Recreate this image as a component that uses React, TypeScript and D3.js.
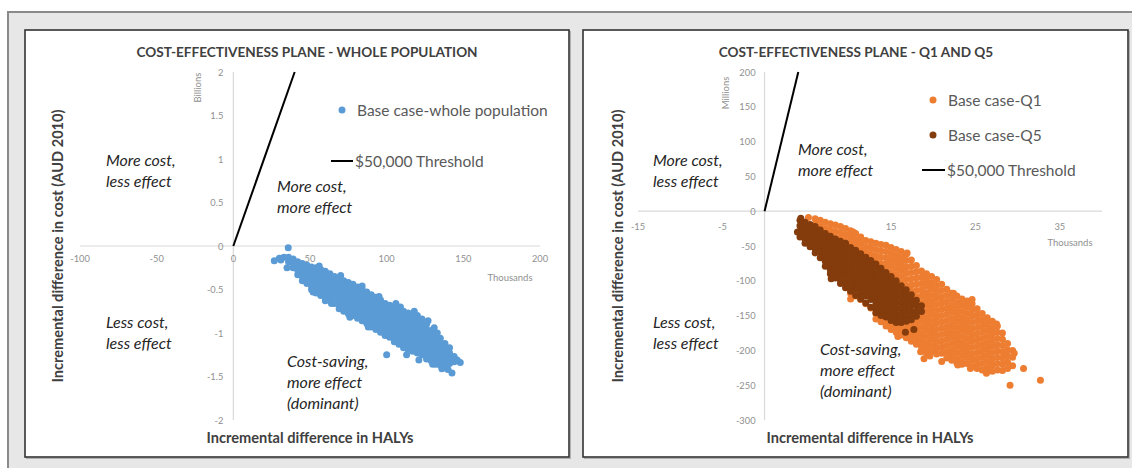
import React from 'react';
import * as d3 from 'd3';

// ---------- DATA ----------
const leftXTicks = [-100, -50, 0, 50, 100, 150, 200];
const leftYTicks = [2, 1.5, 1, 0.5, 0, -0.5, -1, -1.5, -2];
const rightXTicks = [-15, -5, 5, 15, 25, 35];
const rightYTicks = [200, 150, 100, 50, 0, -50, -100, -150, -200, -250, -300];

// Threshold ($50,000 per HALY): [x thousands, y cost]
const leftThreshold: [number, number][] = [[0, 0], [40, 2]];
const rightThreshold: [number, number][] = [[0, 0], [4, 200]];

// Whole population (x: thousand HALYs, y: billion AUD), read column by column
const wholeCols: [number, number[]][] = [
  [36, [-0.13, -0.18]],
  [39, [-0.15, -0.20, -0.25]],
  [42, [-0.18, -0.23, -0.28, -0.33]],
  [45, [-0.20, -0.25, -0.30, -0.35, -0.40]],
  [48, [-0.22, -0.27, -0.33, -0.38, -0.43]],
  [51, [-0.24, -0.29, -0.35, -0.40, -0.46, -0.50]],
  [54, [-0.25, -0.31, -0.37, -0.42, -0.48, -0.54]],
  [57, [-0.27, -0.33, -0.39, -0.45, -0.51, -0.57]],
  [60, [-0.29, -0.35, -0.41, -0.47, -0.53, -0.59]],
  [63, [-0.32, -0.38, -0.44, -0.50, -0.56, -0.62]],
  [66, [-0.35, -0.41, -0.47, -0.53, -0.59, -0.66]],
  [69, [-0.37, -0.43, -0.49, -0.55, -0.61, -0.67, -0.72]],
  [72, [-0.40, -0.46, -0.52, -0.58, -0.64, -0.70, -0.75]],
  [75, [-0.42, -0.48, -0.54, -0.60, -0.66, -0.72, -0.78]],
  [78, [-0.44, -0.50, -0.56, -0.62, -0.68, -0.74, -0.80]],
  [81, [-0.47, -0.53, -0.59, -0.65, -0.71, -0.77, -0.83]],
  [84, [-0.50, -0.56, -0.62, -0.68, -0.74, -0.80, -0.86]],
  [87, [-0.53, -0.59, -0.65, -0.71, -0.77, -0.83, -0.89]],
  [90, [-0.56, -0.62, -0.68, -0.74, -0.80, -0.86, -0.93]],
  [93, [-0.59, -0.65, -0.71, -0.77, -0.83, -0.89, -0.96]],
  [96, [-0.62, -0.68, -0.74, -0.80, -0.86, -0.92, -0.99]],
  [99, [-0.66, -0.72, -0.78, -0.84, -0.90, -0.96, -1.03]],
  [102, [-0.68, -0.74, -0.80, -0.86, -0.92, -0.98, -1.05]],
  [105, [-0.70, -0.76, -0.82, -0.88, -0.94, -1.00, -1.06, -1.10]],
  [108, [-0.72, -0.78, -0.84, -0.90, -0.96, -1.02, -1.08, -1.13]],
  [111, [-0.75, -0.81, -0.87, -0.93, -0.99, -1.05, -1.11, -1.17]],
  [114, [-0.77, -0.83, -0.89, -0.95, -1.01, -1.07, -1.13, -1.19]],
  [117, [-0.78, -0.84, -0.90, -0.96, -1.02, -1.08, -1.14, -1.21]],
  [120, [-0.80, -0.86, -0.92, -0.98, -1.04, -1.10, -1.16, -1.23]],
  [123, [-0.84, -0.90, -0.96, -1.02, -1.08, -1.14, -1.20, -1.25]],
  [126, [-0.90, -0.96, -1.02, -1.08, -1.14, -1.20, -1.27, -1.30]],
  [129, [-0.97, -1.03, -1.09, -1.15, -1.21, -1.27, -1.32]],
  [132, [-1.02, -1.08, -1.14, -1.20, -1.26, -1.32, -1.36]],
  [135, [-1.06, -1.12, -1.18, -1.24, -1.30, -1.37]],
  [138, [-1.12, -1.18, -1.24, -1.30, -1.36, -1.40]],
  [141, [-1.17, -1.23, -1.29, -1.35]],
  [144, [-1.27, -1.33]],
];
const wholeExtra: [number, number][] = [
  [35.8, -0.02], [26.7, -0.17], [35, -0.25], [31, -0.16], [33, -0.13], [30, -0.14],
  [100, -1.25], [142.6, -1.46], [148, -1.34], [146, -1.31], [140, -1.42], [136, -1.41],
  [121, -1.31], [113, -1.25], [127, -0.86], [131, -0.94], [118, -0.75], [106, -0.66],
  [95, -0.58], [84, -0.46], [70, -0.34], [56, -0.23], [52, -0.53], [64, -0.66],
  [88, -0.93], [130, -1.36], [109, -0.70], [76, -0.82], [60, -0.63], [133, -1.00],
];

// Q5 (x: thousand HALYs, y: million AUD)
const q5Cols: [number, number[]][] = [
  [4.2, [-13, -21, -29, -37]],
  [4.8, [-16, -24, -32, -40, -46]],
  [5.4, [-19, -27, -35, -43, -51]],
  [6.0, [-22, -30, -38, -46, -54, -60]],
  [6.6, [-27, -35, -43, -51, -59, -67]],
  [7.2, [-32, -40, -48, -56, -64, -72, -79]],
  [7.8, [-36, -44, -52, -60, -68, -76, -84, -90]],
  [8.4, [-40, -48, -56, -64, -72, -80, -88, -96]],
  [9.0, [-43, -51, -59, -67, -75, -83, -91, -99, -104]],
  [9.6, [-46, -54, -62, -70, -78, -86, -94, -102, -110]],
  [10.2, [-52, -60, -68, -76, -84, -92, -100, -108, -115]],
  [10.8, [-56, -64, -72, -80, -88, -96, -104, -112, -121]],
  [11.4, [-61, -69, -77, -85, -93, -101, -109, -117, -126]],
  [12.0, [-66, -74, -82, -90, -98, -106, -114, -122, -132]],
  [12.6, [-71, -79, -87, -95, -103, -111, -119, -127, -138]],
  [13.2, [-76, -84, -92, -100, -108, -116, -124, -132, -140, -146]],
  [13.8, [-82, -90, -98, -106, -114, -122, -130, -138, -146, -150]],
  [14.4, [-88, -96, -104, -112, -120, -128, -136, -144, -152]],
  [15.0, [-94, -102, -110, -118, -126, -134, -142, -150, -157]],
  [15.6, [-100, -108, -116, -124, -132, -140, -148, -156, -160]],
  [16.2, [-107, -115, -123, -131, -139, -147, -155, -160]],
  [16.8, [-113, -121, -129, -137, -145, -153, -158]],
  [17.4, [-120, -128, -136, -144, -152, -156]],
  [18.0, [-128, -136, -144, -151]],
  [18.6, [-136, -144]],
];
const q5Extra: [number, number][] = [
  [16.7, -174], [17.7, -170], [7.9, -97], [4.3, -10], [3.9, -30],
];

// Q1 (x: thousand HALYs, y: million AUD)
const q1Cols: [number, number[]][] = [
  [6.0, [-11, -19]],
  [6.6, [-13, -22]],
  [7.2, [-16, -25, -32]],
  [7.8, [-18, -27, -35]],
  [8.4, [-20, -29, -38]],
  [9.0, [-22, -31, -40]],
  [9.6, [-25, -34, -43]],
  [10.2, [-28, -37, -46, -118, -126]],
  [10.8, [-32, -41, -50, -122]],
  [11.4, [-37, -46, -55, -127]],
  [12.0, [-42, -51, -60, -68, -133]],
  [12.6, [-44, -53, -62, -71, -139]],
  [13.2, [-46, -55, -64, -73, -147, -155]],
  [13.8, [-48, -57, -66, -75, -84, -150, -159]],
  [14.4, [-49, -58, -67, -76, -85, -152, -161, -165]],
  [15.0, [-52, -61, -70, -79, -88, -96, -157, -166, -170]],
  [15.6, [-55, -64, -73, -82, -91, -100, -160, -168, -174]],
  [16.2, [-58, -67, -76, -85, -94, -103, -110, -162, -170, -178]],
  [16.8, [-62, -71, -80, -89, -98, -107, -116, -160, -168, -176, -182]],
  [17.4, [-70, -79, -88, -97, -106, -115, -124, -158, -166, -174, -182, -187]],
  [18.0, [-78, -87, -96, -105, -114, -123, -132, -155, -163, -171, -179, -187, -191]],
  [18.6, [-86, -95, -104, -113, -122, -131, -140, -149, -158, -167, -176, -185, -194, -200]],
  [19.2, [-90, -99, -108, -117, -126, -135, -144, -153, -162, -171, -180, -189, -198, -204]],
  [19.8, [-94, -103, -112, -121, -130, -139, -148, -157, -166, -175, -184, -193, -202]],
  [20.4, [-98, -107, -116, -125, -134, -143, -152, -161, -170, -179, -188, -197, -205]],
  [21.0, [-105, -114, -123, -132, -141, -150, -159, -168, -177, -186, -195, -204]],
  [21.6, [-112, -121, -130, -139, -148, -157, -166, -175, -184, -193, -202, -211]],
  [22.2, [-118, -127, -136, -145, -154, -163, -172, -181, -190, -199, -208, -214]],
  [22.8, [-122, -131, -140, -149, -158, -167, -176, -185, -194, -203, -212, -218]],
  [23.4, [-126, -135, -144, -153, -162, -171, -180, -189, -198, -207, -216, -220]],
  [24.0, [-129, -138, -147, -156, -165, -174, -183, -192, -201, -210, -219]],
  [24.6, [-133, -142, -151, -160, -169, -178, -187, -196, -205, -214, -223]],
  [25.2, [-140, -149, -158, -167, -176, -185, -194, -203, -212, -221, -226]],
  [25.8, [-147, -156, -165, -174, -183, -192, -201, -210, -219, -228]],
  [26.4, [-153, -162, -171, -180, -189, -198, -207, -216, -225, -230]],
  [27.0, [-158, -167, -176, -185, -194, -203, -212, -221, -230]],
  [27.6, [-165, -174, -183, -192, -201, -210, -219, -228]],
  [28.2, [-175, -184, -193, -202, -211, -220, -229]],
  [28.8, [-190, -199, -208, -217, -226]],
  [29.4, [-200, -210, -222]],
];
const q1Extra: [number, number][] = [
  [29.1, -250], [32.7, -243], [30.7, -226], [18.5, -202], [18.9, -212],
  [24.4, -226], [21.0, -216], [16.4, -63], [27.5, -162], [5.2, -9], [10.5, -30],
  [16.9, -60], [22.4, -118], [24.6, -127], [26.9, -172], [29.6, -204], [26.3, -233],
  [22.9, -221], [19.6, -208], [15.8, -180],
];

// ---------- HELPERS ----------
const flatten = (cols: [number, number[]][], extra: [number, number][]) => [
  ...cols.flatMap(([x, ys]) => ys.map((y) => [x, y] as [number, number])),
  ...extra,
];
const wholePts = flatten(wholeCols, wholeExtra);
const q5Pts = flatten(q5Cols, q5Extra);
const q1Pts = flatten(q1Cols, q1Extra);

const FONT = "Lato, 'Open Sans', sans-serif";
const BLUE = '#5b9bd5';
const ORANGE = '#ed7d31';
const BROWN = '#843c0c';
const R = 3.5;

const QLabel = ({ x, y, lines }: { x: number; y: number; lines: string[] }) => (
  <text x={x} y={y} fontFamily={FONT} fontStyle="italic" fontSize={16} fill="#262626">
    {lines.map((l, i) => (
      <tspan key={i} x={x} dy={i === 0 ? 0 : 21}>{l}</tspan>
    ))}
  </text>
);

export default function App() {
  // Left plot scales
  const lx = d3.scaleLinear().domain([-100, 200]).range([80, 540]);
  const ly = d3.scaleLinear().domain([-2, 2]).range([420, 72]);
  // Right plot scales
  const rx = d3.scaleLinear().domain([-15, 40]).range([638, 1102]);
  const ry = d3.scaleLinear().domain([-300, 200]).range([420, 72]);

  const line = (sx: any, sy: any) => d3.line<[number, number]>().x((d) => sx(d[0])).y((d) => sy(d[1]));

  const tickStyle = { fontFamily: FONT, fontSize: 9.3, fill: '#909090' } as const;
  const unitStyle = { fontFamily: FONT, fontSize: 9.5, fill: '#909090' } as const;
  const axisTitle = { fontFamily: FONT, fontSize: 14.6, fontWeight: 700, fill: '#404040' } as const;
  const legendStyle = { fontFamily: FONT, fontSize: 15.5, fill: '#595959' } as const;
  const titleStyle = { fontFamily: FONT, fontSize: 13.6, fontWeight: 700, fill: '#404040' } as const;

  return (
    <svg width={1132} height={468} style={{ position: 'absolute', left: 0, top: 0 }}>
      <rect x={0} y={0} width={1132} height={468} fill="#ffffff" />
      <rect x={8} y={12} width={1140} height={480} fill="#e7e7e7" stroke="#8a8a8a" strokeWidth={2} />
      {/* panels */}
      <rect x={26.5} y={31.5} width={544} height={427} fill="none" stroke="#b0b0b0" strokeWidth={1} />
      <rect x={25} y={30} width={544} height={427} fill="#ffffff" stroke="#333" strokeWidth={1.6} />
      <rect x={584.5} y={31.5} width={545} height={427} fill="none" stroke="#b0b0b0" strokeWidth={1} />
      <rect x={583} y={30} width={545} height={427} fill="#ffffff" stroke="#333" strokeWidth={1.6} />

      {/* ---------------- LEFT CHART ---------------- */}
      <text x={307} y={57} textAnchor="middle" {...titleStyle}>
        COST-EFFECTIVENESS PLANE - WHOLE POPULATION
      </text>
      <line x1={lx(-100)} x2={lx(200)} y1={ly(0)} y2={ly(0)} stroke="#d9d9d9" strokeWidth={1.2} />
      <line x1={lx(0)} x2={lx(0)} y1={ly(2)} y2={ly(-2)} stroke="#d9d9d9" strokeWidth={1.2} />
      {leftYTicks.map((t) => (
        <text key={t} x={lx(0) - 10} y={ly(t) + 3.5} textAnchor="end" {...tickStyle}>{String(t)}</text>
      ))}
      {leftXTicks.map((t) => (
        <text key={t} x={lx(t)} y={ly(0) + 16} textAnchor="middle" {...tickStyle}>{String(t)}</text>
      ))}
      <text x={510} y={ly(0) + 35} textAnchor="middle" {...unitStyle}>Thousands</text>
      <text transform={`translate(${lx(0) - 32},${ly(1.82)}) rotate(-90)`} textAnchor="middle" {...unitStyle}>Billions</text>
      <text transform={`translate(63,${(ly(2) + ly(-2)) / 2}) rotate(-90)`} textAnchor="middle" {...axisTitle}>
        Incremental difference in cost (AUD 2010)
      </text>
      <text x={(lx(-100) + lx(200)) / 2} y={443} textAnchor="middle" {...axisTitle}>Incremental difference in HALYs</text>

      <g fill={BLUE}>
        {wholePts.map(([x, y], i) => (
          <circle key={i} cx={lx(x)} cy={ly(y)} r={R} />
        ))}
      </g>
      <path d={line(lx, ly)(leftThreshold) || ''} stroke="#000" strokeWidth={2} fill="none" />

      <QLabel x={106} y={166} lines={['More cost,', 'less effect']} />
      <QLabel x={277} y={192} lines={['More cost,', 'more effect']} />
      <QLabel x={106} y={328} lines={['Less cost,', 'less effect']} />
      <QLabel x={287} y={367} lines={['Cost-saving,', 'more effect', '(dominant)']} />

      <circle cx={342} cy={110} r={R} fill={BLUE} />
      <text x={357} y={115.5} {...legendStyle}>Base case-whole population</text>
      <line x1={331} x2={353} y1={161} y2={161} stroke="#000" strokeWidth={2} />
      <text x={355} y={166.5} {...legendStyle}>$50,000 Threshold</text>

      {/* ---------------- RIGHT CHART ---------------- */}
      <text x={856} y={57} textAnchor="middle" {...titleStyle}>
        COST-EFFECTIVENESS PLANE - Q1 AND Q5
      </text>
      <line x1={rx(-15)} x2={rx(40)} y1={ry(0)} y2={ry(0)} stroke="#d9d9d9" strokeWidth={1.2} />
      <line x1={rx(0)} x2={rx(0)} y1={ry(200)} y2={ry(-300)} stroke="#d9d9d9" strokeWidth={1.2} />
      {rightYTicks.map((t) => (
        <text key={t} x={rx(0) - 9} y={ry(t) + 3.5} textAnchor="end" {...tickStyle}>{String(t)}</text>
      ))}
      {rightXTicks.map((t) => (
        <text key={t} x={rx(t)} y={ry(0) + 19} textAnchor="middle" {...tickStyle}>{String(t)}</text>
      ))}
      <text x={1070} y={ry(0) + 35} textAnchor="middle" {...unitStyle}>Thousands</text>
      <text transform={`translate(${rx(0) - 36},${ry(170)}) rotate(-90)`} textAnchor="middle" {...unitStyle}>Millions</text>
      <text transform={`translate(623,${(ry(200) + ry(-300)) / 2}) rotate(-90)`} textAnchor="middle" {...axisTitle}>
        Incremental difference in cost (AUD 2010)
      </text>
      <text x={(rx(-15) + rx(40)) / 2} y={443} textAnchor="middle" {...axisTitle}>Incremental difference in HALYs</text>

      <g fill={ORANGE}>
        {q1Pts.map(([x, y], i) => (
          <circle key={i} cx={rx(x)} cy={ry(y)} r={R} />
        ))}
      </g>
      <g fill={BROWN}>
        {q5Pts.map(([x, y], i) => (
          <circle key={i} cx={rx(x)} cy={ry(y)} r={R} />
        ))}
      </g>
      <path d={line(rx, ry)(rightThreshold) || ''} stroke="#000" strokeWidth={2} fill="none" />

      <QLabel x={653} y={166} lines={['More cost,', 'less effect']} />
      <QLabel x={798} y={155} lines={['More cost,', 'more effect']} />
      <QLabel x={653} y={328} lines={['Less cost,', 'less effect']} />
      <QLabel x={820} y={355} lines={['Cost-saving,', 'more effect', '(dominant)']} />

      <circle cx={933} cy={100} r={R} fill={ORANGE} />
      <text x={948} y={105.5} {...legendStyle}>Base case-Q1</text>
      <circle cx={933} cy={135} r={R} fill={BROWN} />
      <text x={948} y={140.5} {...legendStyle}>Base case-Q5</text>
      <line x1={922} x2={945} y1={170} y2={170} stroke="#000" strokeWidth={2} />
      <text x={947} y={175.5} {...legendStyle}>$50,000 Threshold</text>
    </svg>
  );
}
